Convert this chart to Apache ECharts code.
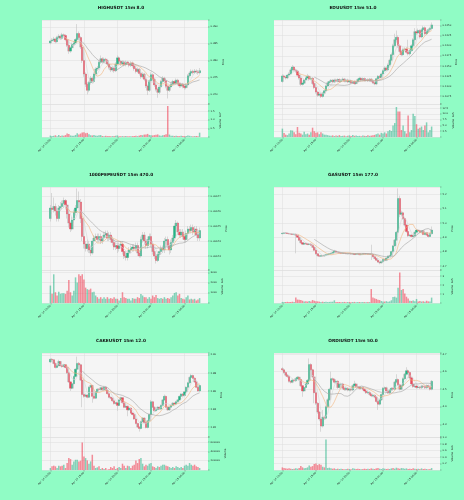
<!DOCTYPE html>
<html>
<head>
<meta charset="utf-8">
<script src="https://cdn.jsdelivr.net/npm/echarts@6/dist/echarts.min.js"></script>
<style>
  html, body { margin: 0; padding: 0; background: #90fcc5; }
  #chart { width: 464px; height: 500px; }
</style>
</head>
<body>
<div id="chart"></div>
<script>
// x tick labels, one every 20 candles (15m bars)
const xTickLabels = ["Apr 14 10:00", "Apr 14 15:00", "Apr 14 20:00", "Apr 15 01:00", "Apr 15 06:00"];

// candles are [open, close, low, high]
const highCandles = [
  [0.3852,0.3858,0.3848,0.3862],[0.3858,0.3860,0.3853,0.3866],[0.3860,0.3864,0.3856,0.3870],[0.3864,0.3856,0.3851,0.3868],[0.3856,0.3868,0.3853,0.3873],
  [0.3868,0.3872,0.3864,0.3878],[0.3872,0.3866,0.3861,0.3877],[0.3866,0.3876,0.3862,0.3882],[0.3876,0.3874,0.3868,0.3880],[0.3874,0.3862,0.3857,0.3878],
  [0.3862,0.3845,0.3840,0.3866],[0.3845,0.3828,0.3820,0.3849],[0.3828,0.3838,0.3823,0.3842],[0.3838,0.3848,0.3833,0.3853],[0.3848,0.3852,0.3843,0.3858],
  [0.3852,0.3862,0.3847,0.3866],[0.3862,0.3880,0.3856,0.3908],[0.3880,0.3868,0.3862,0.3886],[0.3868,0.3840,0.3834,0.3872],[0.3840,0.3800,0.3793,0.3846],
  [0.3800,0.3760,0.3752,0.3806],[0.3760,0.3730,0.3722,0.3765],[0.3730,0.3712,0.3700,0.3736],[0.3712,0.3735,0.3706,0.3740],[0.3735,0.3748,0.3729,0.3754],
  [0.3748,0.3738,0.3732,0.3753],[0.3738,0.3760,0.3733,0.3765],[0.3760,0.3775,0.3755,0.3780],[0.3775,0.3778,0.3769,0.3784],[0.3778,0.3795,0.3773,0.3800],
  [0.3795,0.3805,0.3790,0.3815],[0.3805,0.3797,0.3791,0.3810],[0.3797,0.3804,0.3792,0.3809],[0.3804,0.3800,0.3795,0.3808],[0.3800,0.3790,0.3785,0.3805],
  [0.3790,0.3780,0.3774,0.3794],[0.3780,0.3772,0.3766,0.3785],[0.3772,0.3778,0.3767,0.3783],[0.3778,0.3770,0.3764,0.3782],[0.3770,0.3790,0.3766,0.3795],
  [0.3790,0.3808,0.3786,0.3815],[0.3808,0.3798,0.3792,0.3812],[0.3798,0.3790,0.3784,0.3802],[0.3790,0.3796,0.3785,0.3801],[0.3796,0.3788,0.3783,0.3800],
  [0.3788,0.3795,0.3783,0.3800],[0.3795,0.3792,0.3787,0.3799],[0.3792,0.3786,0.3780,0.3797],[0.3786,0.3793,0.3781,0.3798],[0.3793,0.3785,0.3779,0.3797],
  [0.3785,0.3776,0.3770,0.3789],[0.3776,0.3768,0.3762,0.3780],[0.3768,0.3774,0.3763,0.3779],[0.3774,0.3762,0.3756,0.3778],[0.3762,0.3752,0.3746,0.3766],
  [0.3752,0.3760,0.3747,0.3765],[0.3760,0.3745,0.3739,0.3764],[0.3745,0.3725,0.3719,0.3749],[0.3725,0.3712,0.3698,0.3729],[0.3712,0.3740,0.3707,0.3745],
  [0.3740,0.3758,0.3735,0.3765],[0.3758,0.3745,0.3739,0.3762],[0.3745,0.3728,0.3722,0.3749],[0.3728,0.3715,0.3709,0.3732],[0.3715,0.3706,0.3690,0.3720],
  [0.3706,0.3722,0.3701,0.3727],[0.3722,0.3738,0.3717,0.3743],[0.3738,0.3748,0.3733,0.3754],[0.3748,0.3740,0.3734,0.3752],[0.3740,0.3724,0.3718,0.3744],
  [0.3724,0.3712,0.3688,0.3728],[0.3712,0.3722,0.3707,0.3727],[0.3722,0.3730,0.3717,0.3735],[0.3730,0.3738,0.3725,0.3743],[0.3738,0.3733,0.3727,0.3742],
  [0.3733,0.3742,0.3728,0.3747],[0.3742,0.3732,0.3726,0.3746],[0.3732,0.3725,0.3719,0.3736],[0.3725,0.3730,0.3720,0.3735],[0.3730,0.3724,0.3718,0.3734],
  [0.3724,0.3720,0.3714,0.3728],[0.3720,0.3728,0.3715,0.3733],[0.3728,0.3755,0.3724,0.3760],[0.3755,0.3763,0.3750,0.3768],[0.3763,0.3768,0.3758,0.3774],
  [0.3768,0.3765,0.3759,0.3773],[0.3765,0.3769,0.3760,0.3775],[0.3769,0.3767,0.3761,0.3774],[0.3767,0.3764,0.3758,0.3772],[0.3764,0.3770,0.3759,0.3778]
];
const highVolume = [
  0.08,0.06,0.07,0.10,0.05,0.12,0.06,0.09,0.07,0.11, 0.20,0.18,0.09,0.07,0.08,0.12,0.22,0.15,0.20,0.26,
  0.28,0.22,0.24,0.16,0.10,0.09,0.12,0.08,0.07,0.10, 0.11,0.06,0.05,0.07,0.05,0.06,0.04,0.05,0.06,0.07,
  0.09,0.05,0.04,0.05,0.04,0.06,0.04,0.05,0.04,0.05, 0.06,0.07,0.05,0.08,0.12,0.10,0.14,0.15,0.18,0.12,
  0.10,0.09,0.11,0.13,0.15,0.09,0.08,0.10,0.12,0.16, 1.80,0.14,0.08,0.07,0.06,0.08,0.06,0.05,0.07,0.06,
  0.05,0.06,0.09,0.07,0.05,0.04,0.05,0.06,0.05,0.25
];
const highPriceTicks = [0.370, 0.375, 0.380, 0.385, 0.390];
const highVolumeTicks = [0.5, 1.0, 1.5];

const eduCandles = [
  [0.1111,0.1125,0.1108,0.1129],[0.1125,0.1122,0.1118,0.1128],[0.1122,0.1120,0.1116,0.1126],[0.1120,0.1127,0.1117,0.1130],[0.1127,0.1130,0.1124,0.1134],
  [0.1130,0.1140,0.1127,0.1144],[0.1140,0.1147,0.1136,0.1152],[0.1147,0.1140,0.1136,0.1150],[0.1140,0.1137,0.1133,0.1143],[0.1137,0.1127,0.1123,0.1140],
  [0.1127,0.1120,0.1116,0.1131],[0.1120,0.1104,0.1100,0.1123],[0.1104,0.1107,0.1101,0.1111],[0.1107,0.1115,0.1104,0.1118],[0.1115,0.1120,0.1112,0.1124],
  [0.1120,0.1124,0.1117,0.1130],[0.1124,0.1117,0.1113,0.1127],[0.1117,0.1119,0.1114,0.1123],[0.1119,0.1106,0.1102,0.1122],[0.1106,0.1096,0.1092,0.1109],
  [0.1096,0.1085,0.1081,0.1099],[0.1085,0.1077,0.1073,0.1088],[0.1077,0.1080,0.1074,0.1084],[0.1080,0.1074,0.1070,0.1083],[0.1074,0.1082,0.1071,0.1085],
  [0.1082,0.1088,0.1079,0.1091],[0.1088,0.1100,0.1085,0.1103],[0.1100,0.1108,0.1097,0.1112],[0.1108,0.1111,0.1105,0.1115],[0.1111,0.1114,0.1108,0.1117],
  [0.1114,0.1110,0.1107,0.1117],[0.1110,0.1115,0.1107,0.1118],[0.1115,0.1112,0.1109,0.1118],[0.1112,0.1116,0.1109,0.1119],[0.1116,0.1111,0.1108,0.1119],
  [0.1111,0.1114,0.1108,0.1117],[0.1114,0.1117,0.1111,0.1121],[0.1117,0.1112,0.1109,0.1120],[0.1112,0.1115,0.1109,0.1118],[0.1115,0.1110,0.1107,0.1118],
  [0.1110,0.1113,0.1107,0.1116],[0.1113,0.1108,0.1105,0.1116],[0.1108,0.1111,0.1105,0.1114],[0.1111,0.1106,0.1103,0.1114],[0.1106,0.1110,0.1103,0.1113],
  [0.1110,0.1116,0.1107,0.1119],[0.1116,0.1119,0.1113,0.1123],[0.1119,0.1115,0.1112,0.1122],[0.1115,0.1118,0.1112,0.1121],[0.1118,0.1114,0.1111,0.1121],
  [0.1114,0.1116,0.1111,0.1119],[0.1116,0.1113,0.1110,0.1119],[0.1113,0.1117,0.1110,0.1120],[0.1117,0.1112,0.1109,0.1120],[0.1112,0.1108,0.1105,0.1115],
  [0.1108,0.1105,0.1102,0.1111],[0.1105,0.1118,0.1102,0.1121],[0.1118,0.1124,0.1115,0.1127],[0.1124,0.1121,0.1118,0.1127],[0.1121,0.1130,0.1118,0.1133],
  [0.1130,0.1138,0.1127,0.1141],[0.1138,0.1145,0.1135,0.1149],[0.1145,0.1140,0.1137,0.1149],[0.1140,0.1152,0.1137,0.1156],[0.1152,0.1164,0.1149,0.1168],
  [0.1164,0.1178,0.1161,0.1183],[0.1178,0.1200,0.1175,0.1205],[0.1200,0.1215,0.1196,0.1230],[0.1215,0.1221,0.1208,0.1238],[0.1221,0.1200,0.1195,0.1226],
  [0.1200,0.1186,0.1181,0.1204],[0.1186,0.1178,0.1174,0.1190],[0.1178,0.1190,0.1175,0.1194],[0.1190,0.1192,0.1186,0.1196],[0.1192,0.1184,0.1180,0.1196],
  [0.1184,0.1180,0.1176,0.1215],[0.1180,0.1188,0.1176,0.1192],[0.1188,0.1200,0.1185,0.1204],[0.1200,0.1215,0.1197,0.1219],[0.1215,0.1235,0.1212,0.1244],
  [0.1235,0.1232,0.1227,0.1240],[0.1232,0.1238,0.1228,0.1243],[0.1238,0.1222,0.1218,0.1241],[0.1222,0.1240,0.1219,0.1244],[0.1240,0.1245,0.1236,0.1250],
  [0.1245,0.1230,0.1226,0.1248],[0.1230,0.1236,0.1227,0.1240],[0.1236,0.1240,0.1232,0.1244],[0.1240,0.1243,0.1237,0.1247],[0.1243,0.1252,0.1240,0.1258]
];
const eduVolume = [
  3.6,1.7,1.0,0.8,1.5,2.9,2.8,2.0,1.2,4.3, 1.8,1.5,1.0,2.3,1.2,1.5,1.0,2.0,4.0,2.5,
  1.8,2.0,1.2,2.0,1.5,1.0,1.0,0.8,0.6,0.5, 0.7,0.4,0.6,0.5,0.8,0.4,0.5,0.6,0.3,0.5,
  0.7,0.4,0.9,0.5,0.6,0.4,0.5,0.3,0.6,0.5, 0.4,0.7,0.5,0.6,0.8,0.9,1.2,1.5,1.0,1.8,
  1.5,2.0,1.5,2.5,3.0,2.6,5.0,6.0,12.9,11.0, 11.0,3.0,5.0,2.5,1.5,9.3,2.0,3.0,10.0,9.0,
  5.5,3.5,4.0,4.5,3.0,5.0,6.3,2.0,3.0,4.5
];
const eduPriceTicks = [0.1075, 0.1100, 0.1125, 0.1150, 0.1175, 0.1200, 0.1225, 0.1250];
const eduVolumeTicks = [2.5, 5.0, 7.5, 10.0, 12.5];

const pepeCandles = [
  [0.006755,0.006762,0.006753,0.006764],[0.006762,0.006761,0.006758,0.006772],[0.006761,0.006763,0.006759,0.006769],[0.006763,0.006760,0.006757,0.006765],[0.006760,0.006755,0.006753,0.006762],
  [0.006755,0.006762,0.006753,0.006764],[0.006762,0.006763,0.006760,0.006766],[0.006763,0.006765,0.006761,0.006767],[0.006765,0.006767,0.006762,0.006769],[0.006767,0.006764,0.006761,0.006768],
  [0.006764,0.006758,0.006755,0.006765],[0.006758,0.006752,0.006749,0.006760],[0.006752,0.006748,0.006746,0.006753],[0.006748,0.006754,0.006747,0.006756],[0.006754,0.006759,0.006752,0.006761],
  [0.006759,0.006762,0.006757,0.006764],[0.006762,0.006767,0.006760,0.006775],[0.006767,0.006766,0.006762,0.006773],[0.006766,0.006755,0.006752,0.006768],[0.006755,0.006743,0.006740,0.006757],
  [0.006743,0.006738,0.006735,0.006745],[0.006738,0.006735,0.006733,0.006740],[0.006735,0.006738,0.006733,0.006741],[0.006738,0.006734,0.006732,0.006740],[0.006734,0.006732,0.006730,0.006737],
  [0.006732,0.006740,0.006731,0.006742],[0.006740,0.006742,0.006738,0.006744],[0.006742,0.006743,0.006740,0.006745],[0.006743,0.006741,0.006739,0.006745],[0.006741,0.006743,0.006739,0.006745],
  [0.006743,0.006740,0.006738,0.006745],[0.006740,0.006742,0.006738,0.006744],[0.006742,0.006744,0.006740,0.006746],[0.006744,0.006745,0.006742,0.006747],[0.006745,0.006742,0.006740,0.006747],
  [0.006742,0.006744,0.006740,0.006746],[0.006744,0.006741,0.006739,0.006746],[0.006741,0.006739,0.006737,0.006743],[0.006739,0.006736,0.006734,0.006741],[0.006736,0.006737,0.006734,0.006739],
  [0.006737,0.006735,0.006732,0.006739],[0.006735,0.006737,0.006733,0.006739],[0.006737,0.006738,0.006735,0.006740],[0.006738,0.006733,0.006731,0.006740],[0.006733,0.006730,0.006728,0.006735],
  [0.006730,0.006729,0.006727,0.006732],[0.006729,0.006732,0.006727,0.006734],[0.006732,0.006734,0.006730,0.006736],[0.006734,0.006735,0.006732,0.006737],[0.006735,0.006736,0.006733,0.006738],
  [0.006736,0.006735,0.006733,0.006738],[0.006735,0.006737,0.006733,0.006739],[0.006737,0.006732,0.006730,0.006739],[0.006732,0.006730,0.006729,0.006734],[0.006730,0.006741,0.006729,0.006743],
  [0.006741,0.006744,0.006739,0.006746],[0.006744,0.006740,0.006738,0.006746],[0.006740,0.006737,0.006735,0.006742],[0.006737,0.006741,0.006735,0.006743],[0.006741,0.006743,0.006739,0.006745],
  [0.006743,0.006738,0.006736,0.006745],[0.006738,0.006733,0.006731,0.006740],[0.006733,0.006730,0.006728,0.006735],[0.006730,0.006727,0.006725,0.006732],[0.006727,0.006731,0.006726,0.006733],
  [0.006731,0.006733,0.006729,0.006735],[0.006733,0.006735,0.006731,0.006737],[0.006735,0.006734,0.006732,0.006737],[0.006734,0.006740,0.006732,0.006742],[0.006740,0.006741,0.006738,0.006743],
  [0.006741,0.006737,0.006735,0.006743],[0.006737,0.006734,0.006731,0.006739],[0.006734,0.006739,0.006732,0.006741],[0.006739,0.006742,0.006737,0.006744],[0.006742,0.006750,0.006740,0.006752],
  [0.006750,0.006752,0.006748,0.006754],[0.006752,0.006746,0.006744,0.006753],[0.006746,0.006744,0.006742,0.006748],[0.006744,0.006746,0.006742,0.006748],[0.006746,0.006743,0.006741,0.006748],
  [0.006743,0.006741,0.006739,0.006745],[0.006741,0.006745,0.006739,0.006747],[0.006745,0.006748,0.006743,0.006750],[0.006748,0.006747,0.006745,0.006750],[0.006747,0.006749,0.006745,0.006751],
  [0.006749,0.006746,0.006744,0.006751],[0.006746,0.006748,0.006744,0.006750],[0.006748,0.006744,0.006742,0.006750],[0.006744,0.006742,0.006740,0.006746],[0.006742,0.006747,0.006740,0.006749]
];
const pepeVolume = [
  1700,900,2800,1050,730,1100,900,950,950,890, 1200,2250,1050,730,1200,2500,2000,2800,2650,2800,
  2300,1500,1350,1300,1400,1050,1100,730,570,410, 570,410,570,410,570,410,480,410,570,410,
  410,250,480,1050,570,480,410,410,250,480, 410,410,570,480,890,730,570,570,410,570,
  410,730,570,790,480,410,480,410,570,410, 480,410,570,730,980,1050,730,890,480,410,
  350,570,730,350,410,350,410,250,350,480
];
const pepePriceTicks = [0.00673, 0.00674, 0.00675, 0.00676, 0.00677];
const pepeVolumeTicks = [1000, 2000, 3000];

const gasCandles = [
  [4.925,4.928,4.921,4.932],[4.928,4.930,4.924,4.934],[4.930,4.929,4.925,4.933],[4.929,4.926,4.922,4.932],[4.926,4.924,4.920,4.930],
  [4.924,4.922,4.918,4.928],[4.922,4.920,4.916,4.926],[4.920,4.921,4.915,4.925],[4.921,4.914,4.788,4.925],[4.914,4.900,4.895,4.918],
  [4.900,4.880,4.874,4.904],[4.880,4.862,4.856,4.884],[4.862,4.852,4.846,4.866],[4.852,4.858,4.847,4.864],[4.858,4.855,4.850,4.862],
  [4.855,4.850,4.845,4.860],[4.850,4.853,4.845,4.858],[4.853,4.845,4.840,4.858],[4.845,4.830,4.825,4.849],[4.830,4.810,4.804,4.834],
  [4.810,4.785,4.779,4.814],[4.785,4.772,4.766,4.789],[4.772,4.768,4.762,4.776],[4.768,4.772,4.763,4.777],[4.772,4.770,4.765,4.776],
  [4.770,4.775,4.765,4.780],[4.775,4.779,4.770,4.784],[4.779,4.781,4.775,4.786],[4.781,4.785,4.776,4.790],[4.785,4.788,4.780,4.793],
  [4.788,4.795,4.783,4.800],[4.795,4.802,4.790,4.812],[4.802,4.796,4.791,4.806],[4.796,4.793,4.789,4.800],[4.793,4.790,4.786,4.797],
  [4.790,4.788,4.783,4.794],[4.788,4.790,4.784,4.794],[4.790,4.789,4.785,4.794],[4.789,4.786,4.782,4.793],[4.786,4.788,4.782,4.792],
  [4.788,4.787,4.783,4.792],[4.787,4.783,4.779,4.791],[4.783,4.785,4.779,4.789],[4.785,4.780,4.776,4.789],[4.780,4.782,4.776,4.786],
  [4.782,4.784,4.778,4.788],[4.784,4.779,4.775,4.788],[4.779,4.781,4.775,4.785],[4.781,4.785,4.777,4.789],[4.785,4.783,4.779,4.789],
  [4.783,4.785,4.779,4.789],[4.785,4.782,4.778,4.789],[4.782,4.784,4.778,4.788],[4.784,4.781,4.742,4.848],[4.781,4.765,4.760,4.785],
  [4.765,4.752,4.747,4.769],[4.752,4.740,4.735,4.756],[4.740,4.728,4.722,4.744],[4.728,4.722,4.712,4.732],[4.722,4.730,4.717,4.735],
  [4.730,4.745,4.726,4.750],[4.745,4.738,4.733,4.750],[4.738,4.755,4.734,4.760],[4.755,4.768,4.751,4.773],[4.768,4.772,4.763,4.778],
  [4.772,4.800,4.768,4.806],[4.800,4.840,4.796,4.846],[4.840,4.880,4.835,4.888],[4.880,4.935,4.875,4.945],[4.935,5.170,4.925,5.240],
  [5.170,5.060,5.040,5.190],[5.060,5.070,5.045,5.085],[5.070,5.030,5.022,5.078],[5.030,4.985,4.975,5.036],[4.985,4.940,4.930,4.992],
  [4.940,4.910,4.902,4.946],[4.910,4.915,4.905,4.922],[4.915,4.905,4.900,4.920],[4.905,4.910,4.899,4.916],[4.910,4.935,4.905,4.940],
  [4.935,4.950,4.930,4.956],[4.950,4.945,4.939,4.955],[4.945,4.935,4.930,4.950],[4.935,4.945,4.930,4.950],[4.945,4.920,4.915,4.950],
  [4.920,4.932,4.915,4.937],[4.932,4.915,4.910,4.937],[4.915,4.905,4.898,4.920],[4.905,4.925,4.900,4.930],[4.925,4.950,4.920,4.975]
];
const gasVolume = [
  0.12,0.10,0.11,0.13,0.10,0.12,0.14,0.11,0.60,0.38, 0.35,0.32,0.25,0.18,0.20,0.16,0.22,0.18,0.33,0.25,
  0.20,0.18,0.15,0.12,0.14,0.11,0.13,0.10,0.12,0.15, 0.14,0.30,0.12,0.10,0.11,0.09,0.10,0.12,0.09,0.10,
  0.11,0.09,0.10,0.12,0.09,0.10,0.11,0.08,0.12,0.10, 0.09,0.11,0.10,1.55,0.60,0.52,0.45,0.35,0.33,0.22,
  0.18,0.16,0.20,0.15,0.18,0.30,0.67,0.70,0.60,1.70, 3.40,1.45,1.55,1.07,0.70,0.50,0.25,0.22,0.28,0.20,
  0.45,0.18,0.22,0.16,0.20,0.15,0.25,0.18,0.16,0.60
];
const gasPriceTicks = [4.7, 4.8, 4.9, 5.0, 5.1, 5.2];
const gasVolumeTicks = [1, 2, 3];

const cakeCandles = [
  [2.8920,2.8950,2.8910,2.8960],[2.8950,2.8945,2.8930,2.8962],[2.8945,2.8905,2.8895,2.8950],[2.8905,2.8860,2.8850,2.8912],[2.8860,2.8880,2.8852,2.8890],
  [2.8880,2.8925,2.8872,2.8945],[2.8925,2.8880,2.8870,2.8932],[2.8880,2.8870,2.8858,2.8890],[2.8870,2.8890,2.8862,2.8900],[2.8890,2.8860,2.8850,2.8898],
  [2.8860,2.8800,2.8790,2.8868],[2.8800,2.8700,2.8690,2.8808],[2.8700,2.8630,2.8600,2.8710],[2.8630,2.8680,2.8620,2.8690],[2.8680,2.8760,2.8672,2.8770],
  [2.8760,2.8840,2.8750,2.8850],[2.8840,2.8905,2.8830,2.8980],[2.8905,2.8890,2.8870,2.8920],[2.8890,2.8720,2.8710,2.8900],[2.8720,2.8560,2.8420,2.8730],
  [2.8560,2.8540,2.8525,2.8575],[2.8540,2.8555,2.8530,2.8570],[2.8555,2.8530,2.8518,2.8565],[2.8530,2.8640,2.8522,2.8652],[2.8640,2.8660,2.8630,2.8672],
  [2.8660,2.8540,2.8470,2.8668],[2.8540,2.8520,2.8508,2.8552],[2.8520,2.8590,2.8512,2.8600],[2.8590,2.8620,2.8580,2.8630],[2.8620,2.8615,2.8605,2.8630],
  [2.8615,2.8635,2.8605,2.8645],[2.8635,2.8610,2.8600,2.8645],[2.8610,2.8640,2.8600,2.8650],[2.8640,2.8610,2.8600,2.8648],[2.8610,2.8570,2.8560,2.8618],
  [2.8570,2.8530,2.8520,2.8578],[2.8530,2.8520,2.8508,2.8540],[2.8520,2.8490,2.8480,2.8528],[2.8490,2.8460,2.8450,2.8498],[2.8460,2.8470,2.8450,2.8480],
  [2.8470,2.8440,2.8380,2.8478],[2.8440,2.8500,2.8432,2.8510],[2.8500,2.8525,2.8490,2.8535],[2.8525,2.8470,2.8460,2.8532],[2.8470,2.8420,2.8410,2.8478],
  [2.8420,2.8430,2.8410,2.8440],[2.8430,2.8390,2.8320,2.8438],[2.8390,2.8410,2.8380,2.8420],[2.8410,2.8355,2.8345,2.8418],[2.8355,2.8340,2.8330,2.8365],
  [2.8340,2.8290,2.8280,2.8348],[2.8290,2.8240,2.8230,2.8298],[2.8240,2.8200,2.8190,2.8248],[2.8200,2.8185,2.8150,2.8210],[2.8185,2.8260,2.8175,2.8270],
  [2.8260,2.8300,2.8250,2.8310],[2.8300,2.8250,2.8240,2.8308],[2.8250,2.8195,2.8185,2.8258],[2.8195,2.8270,2.8185,2.8280],[2.8270,2.8340,2.8260,2.8350],
  [2.8340,2.8480,2.8330,2.8500],[2.8480,2.8420,2.8410,2.8490],[2.8420,2.8380,2.8370,2.8428],[2.8380,2.8395,2.8370,2.8405],[2.8395,2.8420,2.8385,2.8430],
  [2.8420,2.8400,2.8390,2.8428],[2.8400,2.8440,2.8390,2.8450],[2.8440,2.8500,2.8430,2.8510],[2.8500,2.8540,2.8490,2.8560],[2.8540,2.8420,2.8410,2.8548],
  [2.8420,2.8390,2.8380,2.8428],[2.8390,2.8420,2.8380,2.8430],[2.8420,2.8440,2.8410,2.8450],[2.8440,2.8465,2.8430,2.8475],[2.8465,2.8455,2.8445,2.8475],
  [2.8455,2.8480,2.8445,2.8490],[2.8480,2.8500,2.8470,2.8510],[2.8500,2.8540,2.8490,2.8550],[2.8540,2.8565,2.8530,2.8575],[2.8565,2.8550,2.8540,2.8575],
  [2.8550,2.8590,2.8540,2.8600],[2.8590,2.8640,2.8580,2.8650],[2.8640,2.8690,2.8630,2.8700],[2.8690,2.8750,2.8680,2.8760],[2.8750,2.8770,2.8740,2.8790],
  [2.8770,2.8740,2.8730,2.8780],[2.8740,2.8700,2.8690,2.8750],[2.8700,2.8640,2.8630,2.8710],[2.8640,2.8600,2.8590,2.8650],[2.8600,2.8660,2.8590,2.8670]
];
const cakeVolume = [
  43000,79000,93000,79000,43000,93000,79000,93000,114000,43000, 150000,257000,236000,114000,186000,221000,221000,186000,200000,593000,
  293000,257000,207000,136000,186000,329000,93000,43000,57000,79000, 21000,43000,21000,43000,7000,21000,64000,43000,79000,21000,
  43000,64000,43000,136000,93000,43000,93000,79000,43000,93000, 114000,207000,150000,236000,257000,136000,79000,114000,93000,136000,
  150000,79000,64000,43000,79000,64000,93000,114000,114000,93000, 79000,64000,43000,64000,43000,79000,64000,43000,64000,43000,
  93000,114000,93000,150000,114000,93000,114000,79000,64000,43000
];
const cakePriceTicks = [2.82, 2.84, 2.86, 2.88, 2.90];
const cakeVolumeTicks = [200000, 400000, 600000];

const ordiCandles = [
  [4.617,4.610,4.602,4.625],[4.610,4.595,4.588,4.616],[4.595,4.580,4.572,4.600],[4.580,4.572,4.565,4.586],[4.572,4.545,4.538,4.578],
  [4.545,4.540,4.532,4.550],[4.540,4.552,4.534,4.560],[4.552,4.548,4.540,4.558],[4.548,4.560,4.542,4.566],[4.560,4.568,4.554,4.575],
  [4.568,4.555,4.548,4.573],[4.555,4.520,4.512,4.560],[4.520,4.490,4.457,4.525],[4.490,4.510,4.484,4.518],[4.510,4.530,4.504,4.537],
  [4.530,4.550,4.524,4.558],[4.550,4.640,4.545,4.675],[4.640,4.610,4.602,4.648],[4.610,4.570,4.562,4.616],[4.570,4.480,4.420,4.576],
  [4.480,4.420,4.410,4.486],[4.420,4.370,4.360,4.426],[4.370,4.330,4.318,4.376],[4.330,4.290,4.258,4.336],[4.290,4.340,4.282,4.382],
  [4.340,4.335,4.325,4.350],[4.335,4.400,4.328,4.408],[4.400,4.440,4.392,4.448],[4.440,4.500,4.432,4.508],[4.500,4.560,4.494,4.600],
  [4.560,4.555,4.546,4.566],[4.555,4.540,4.532,4.562],[4.540,4.545,4.533,4.552],[4.545,4.510,4.502,4.550],[4.510,4.528,4.503,4.535],
  [4.528,4.530,4.521,4.537],[4.530,4.505,4.498,4.536],[4.505,4.498,4.490,4.512],[4.498,4.505,4.491,4.512],[4.505,4.495,4.488,4.511],
  [4.495,4.500,4.488,4.507],[4.500,4.495,4.487,4.506],[4.495,4.520,4.489,4.527],[4.520,4.530,4.513,4.548],[4.530,4.515,4.508,4.536],
  [4.515,4.512,4.505,4.521],[4.512,4.505,4.498,4.518],[4.505,4.510,4.498,4.517],[4.510,4.500,4.493,4.516],[4.500,4.490,4.483,4.506],
  [4.490,4.480,4.473,4.496],[4.480,4.482,4.473,4.489],[4.482,4.470,4.463,4.488],[4.470,4.462,4.455,4.476],[4.462,4.465,4.455,4.472],
  [4.465,4.455,4.448,4.471],[4.455,4.430,4.422,4.461],[4.430,4.415,4.382,4.436],[4.415,4.440,4.408,4.447],[4.440,4.470,4.433,4.477],
  [4.470,4.505,4.463,4.512],[4.505,4.508,4.498,4.515],[4.508,4.490,4.483,4.514],[4.490,4.480,4.473,4.496],[4.480,4.495,4.473,4.502],
  [4.495,4.505,4.488,4.512],[4.505,4.500,4.493,4.511],[4.500,4.540,4.494,4.547],[4.540,4.555,4.533,4.585],[4.555,4.525,4.518,4.561],
  [4.525,4.500,4.493,4.531],[4.500,4.520,4.494,4.527],[4.520,4.560,4.514,4.567],[4.560,4.585,4.553,4.592],[4.585,4.605,4.578,4.625],
  [4.605,4.595,4.587,4.612],[4.595,4.565,4.558,4.601],[4.565,4.530,4.522,4.571],[4.530,4.515,4.508,4.536],[4.515,4.518,4.508,4.525],
  [4.518,4.510,4.503,4.524],[4.510,4.512,4.504,4.519],[4.512,4.508,4.501,4.518],[4.508,4.518,4.502,4.525],[4.518,4.515,4.508,4.524],
  [4.515,4.508,4.501,4.521],[4.508,4.520,4.502,4.527],[4.520,4.512,4.505,4.526],[4.512,4.500,4.493,4.518],[4.500,4.545,4.494,4.552]
];
const ordiVolume = [
  0.08,0.06,0.05,0.04,0.05,0.04,0.03,0.04,0.05,0.04, 0.06,0.12,0.08,0.05,0.06,0.08,0.14,0.10,0.12,0.18,
  0.20,0.15,0.18,0.16,0.10,0.08,0.93,0.06,0.07,0.05, 0.04,0.05,0.03,0.04,0.03,0.04,0.03,0.02,0.03,0.04,
  0.03,0.02,0.05,0.04,0.03,0.04,0.03,0.02,0.03,0.04, 0.03,0.04,0.03,0.05,0.04,0.03,0.05,0.06,0.04,0.03,
  0.05,0.04,0.03,0.04,0.03,0.05,0.06,0.04,0.07,0.05, 0.04,0.06,0.05,0.04,0.05,0.03,0.04,0.03,0.05,0.04,
  0.03,0.04,0.03,0.05,0.03,0.04,0.03,0.02,0.03,0.06
];
const ordiPriceTicks = [4.3, 4.4, 4.5, 4.6, 4.7];
const ordiVolumeTicks = [0.2, 0.4, 0.6, 0.8, 1.0];

const maPeriods = [5, 10, 20];
const maColors = ["#d6d6d6", "#f2b37c", "#a3a3a3"];

const UP = "#22b585";
const DOWN = "#f0465a";
const UP_VOL = "rgba(34,181,133,0.55)";
const DOWN_VOL = "rgba(240,70,90,0.6)";
const PLOT_BG = "#f5f5f5";
const GRID_LINE = "#dcdcdc";
const FONT = "DejaVu Sans";
const PAD = 5; // empty slots on each side of the candles
const PLOT_W = 166;

const panels = [
  { title: "HIGHUSDT 15m 8.0", candles: highCandles, vol: highVolume, left: 42, top: 20, priceH: 84, volH: 33,
    yMin: 0.36715, yMax: 0.3920, yStep: 0.005, yTicks: highPriceTicks, yDec: 3,
    vMax: 1.92, vStep: 0.5, vTicks: highVolumeTicks, vDec: 1, vName: "Volume  1e7", titleX: 116, titleY: 1 },
  { title: "EDUUSDT 15m 51.0", candles: eduCandles, vol: eduVolume, left: 274, top: 20, priceH: 84, volH: 33,
    yMin: 0.10551, yMax: 0.12642, yStep: 0.0025, yTicks: eduPriceTicks, yDec: 4,
    vMax: 14.2, vStep: 2.5, vTicks: eduVolumeTicks, vDec: 1, vName: "Volume  1e5", titleX: 348, titleY: 1 },
  { title: "1000PEPEUSDT 15m 470.0", candles: pepeCandles, vol: pepeVolume, left: 42, top: 187, priceH: 83, volH: 33,
    yMin: 0.0067207, yMax: 0.006776, yStep: 0.00001, yTicks: pepePriceTicks, yDec: 5,
    vMax: 3220, vStep: 1000, vTicks: pepeVolumeTicks, vDec: 0, vName: "Volume  1e6", titleX: 116, titleY: 167.5 },
  { title: "GASUSDT 15m 177.0", candles: gasCandles, vol: gasVolume, left: 274, top: 187, priceH: 83, volH: 33,
    yMin: 4.672, yMax: 5.25, yStep: 0.1, yTicks: gasPriceTicks, yDec: 1,
    vMax: 3.67, vStep: 1, vTicks: gasVolumeTicks, vDec: 0, vName: "Volume  1e5", titleX: 348, titleY: 167.5 },
  { title: "CAKEUSDT 15m 12.0", candles: cakeCandles, vol: cakeVolume, left: 42, top: 353, priceH: 84, volH: 33,
    yMin: 2.809, yMax: 2.902, yStep: 0.02, yTicks: cakePriceTicks, yDec: 2,
    vMax: 712000, vStep: 200000, vTicks: cakeVolumeTicks, vDec: 0, vName: "Volume", titleX: 116, titleY: 333.5 },
  { title: "ORDIUSDT 15m 50.0", candles: ordiCandles, vol: ordiVolume, left: 274, top: 353, priceH: 84, volH: 33,
    yMin: 4.228, yMax: 4.706, yStep: 0.1, yTicks: ordiPriceTicks, yDec: 1,
    vMax: 1.01, vStep: 0.2, vTicks: ordiVolumeTicks, vDec: 1, vName: "Volume  1e6", titleX: 348, titleY: 333.5 }
];

function padded(arr) {
  return Array(PAD).fill("-").concat(arr, Array(PAD).fill("-"));
}

function movingAverage(closes, n) {
  return closes.map((_, i) => {
    if (i < n - 1) return "-";
    let s = 0;
    for (let k = i - n + 1; k <= i; k++) s += closes[k];
    return s / n;
  });
}

function tickFormatter(ticks, step, dec) {
  return v => {
    const t = ticks.find(t => Math.abs(t - v) < step * 1e-3);
    return t === undefined ? "" : t.toFixed(dec);
  };
}

const option = {
  backgroundColor: "#90fcc5",
  animation: false,
  textStyle: { fontFamily: FONT },
  title: [], grid: [], xAxis: [], yAxis: [], series: []
};

panels.forEach(p => {
  const n = p.candles.length;
  const cats = [];
  for (let i = -PAD; i < n + PAD; i++) cats.push(String(i));
  const onTick = idx => {
    const i = idx - PAD;
    return i >= 0 && i < n && i % 20 === 0;
  };
  const closes = p.candles.map(c => c[1]);
  const isUp = p.candles.map(c => c[1] >= c[0]);

  option.title.push({
    text: p.title, left: p.titleX, top: p.titleY, textAlign: "center",
    textStyle: { fontSize: 4.3, fontWeight: "bold", color: "#111", fontFamily: FONT }
  });

  const gP = option.grid.length;
  option.grid.push({ left: p.left, top: p.top, width: PLOT_W, height: p.priceH, show: true,
    backgroundColor: PLOT_BG, borderWidth: 0 });
  option.grid.push({ left: p.left, top: p.top + p.priceH, width: PLOT_W, height: p.volH, show: true,
    backgroundColor: PLOT_BG, borderWidth: 0 });

  const splitX = { show: true, interval: onTick, lineStyle: { color: GRID_LINE, width: 0.5 } };
  option.xAxis.push({
    type: "category", gridIndex: gP, data: cats, boundaryGap: false,
    axisLine: { show: false }, axisTick: { show: false }, axisLabel: { show: false }, splitLine: splitX
  });
  option.xAxis.push({
    type: "category", gridIndex: gP + 1, data: cats, boundaryGap: false,
    axisLine: { show: false },
    axisTick: { show: true, interval: onTick, length: 1.5, lineStyle: { color: "#555", width: 0.4 } },
    axisLabel: {
      show: true, interval: onTick, rotate: 45, fontSize: 2.6, margin: 2.5, color: "#222", fontFamily: FONT,
      formatter: (v, idx) => xTickLabels[(idx - PAD) / 20] || ""
    },
    splitLine: splitX
  });

  const yCommon = {
    type: "value", position: "right", scale: true,
    axisLine: { show: false },
    axisTick: { show: true, length: 1.5, lineStyle: { color: "#555", width: 0.4 } },
    splitLine: { show: true, lineStyle: { color: GRID_LINE, width: 0.5 } },
    nameLocation: "middle", nameRotate: 90, nameGap: 11,
    nameTextStyle: { fontSize: 2.6, color: "#222", fontFamily: FONT }
  };
  option.yAxis.push(Object.assign({}, yCommon, {
    gridIndex: gP, min: p.yMin, max: p.yMax, minInterval: p.yStep, maxInterval: p.yStep,
    name: "Price",
    axisLabel: { fontSize: 2.5, margin: 2.5, color: "#222", fontFamily: FONT,
      formatter: tickFormatter(p.yTicks, p.yStep, p.yDec) }
  }));
  option.yAxis.push(Object.assign({}, yCommon, {
    gridIndex: gP + 1, min: 0, max: p.vMax, minInterval: p.vStep, maxInterval: p.vStep,
    name: p.vName,
    axisLabel: { fontSize: 2.5, margin: 2.5, color: "#222", fontFamily: FONT,
      formatter: tickFormatter(p.vTicks, p.vStep, p.vDec) }
  }));

  // grey wick + halo, full candle
  option.series.push({
    type: "candlestick", xAxisIndex: gP, yAxisIndex: gP, data: padded(p.candles), barWidth: 2.2, z: 2,
    itemStyle: { color: "#cfcfcf", color0: "#cfcfcf", borderColor: "#c2c2c2", borderColor0: "#c2c2c2", borderWidth: 0.6 }
  });
  // coloured bodies only
  option.series.push({
    type: "candlestick", xAxisIndex: gP, yAxisIndex: gP, z: 3, barWidth: 1.6,
    data: padded(p.candles.map(c => [c[0], c[1], Math.min(c[0], c[1]), Math.max(c[0], c[1])])),
    itemStyle: { color: UP, color0: DOWN, borderColor: UP, borderColor0: DOWN, borderWidth: 0.2 }
  });
  maPeriods.forEach((m, k) => {
    option.series.push({
      type: "line", xAxisIndex: gP, yAxisIndex: gP, z: 4, symbol: "none", silent: true,
      data: padded(movingAverage(closes, m)),
      lineStyle: { color: maColors[k], width: 0.6 }
    });
  });
  option.series.push({
    type: "bar", xAxisIndex: gP + 1, yAxisIndex: gP + 1, barWidth: 1.5, z: 2,
    data: padded(p.vol),
    itemStyle: { color: prm => (isUp[prm.dataIndex - PAD] ? UP_VOL : DOWN_VOL) }
  });
});

const chart = echarts.init(document.getElementById("chart"), null, { renderer: "canvas" });
chart.setOption(option);
</script>
</body>
</html>
